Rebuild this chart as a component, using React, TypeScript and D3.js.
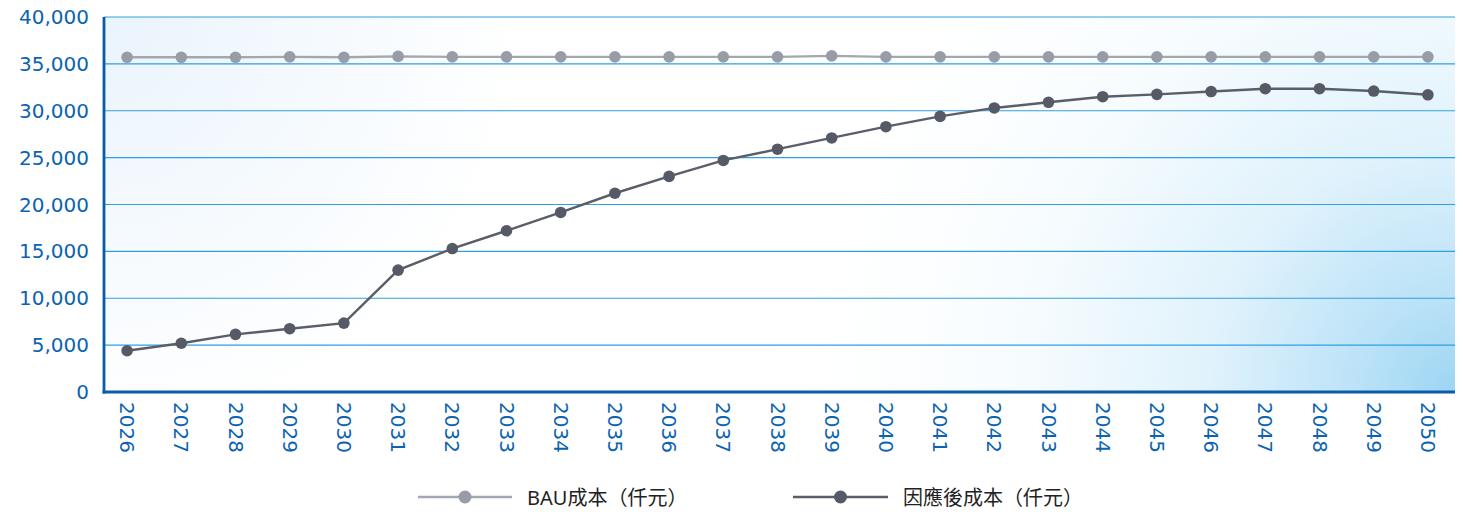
import React from "react";
import * as d3 from "d3";

// Years on the x axis
const years: string[] = [
  "2026", "2027", "2028", "2029", "2030", "2031", "2032", "2033", "2034",
  "2035", "2036", "2037", "2038", "2039", "2040", "2041", "2042", "2043",
  "2044", "2045", "2046", "2047", "2048", "2049", "2050",
];

// BAU cost (thousand NTD)
const bauCost: number[] = [
  35700, 35700, 35700, 35750, 35700, 35800, 35750, 35750, 35750,
  35750, 35750, 35750, 35750, 35850, 35750, 35750, 35750, 35750,
  35750, 35750, 35750, 35750, 35750, 35750, 35750,
];

// Cost after adaptation measures (thousand NTD)
const adaptedCost: number[] = [
  4400, 5200, 6150, 6750, 7350, 13000, 15300, 17200, 19150,
  21200, 23000, 24700, 25900, 27100, 28300, 29400, 30300, 30900,
  31500, 31750, 32050, 32350, 32350, 32100, 31700,
];

const yTicks: number[] = [0, 5000, 10000, 15000, 20000, 25000, 30000, 35000, 40000];

const legendLabels: string[] = ["BAU成本（仟元）", "因應後成本（仟元）"];

const W = 1463;
const H = 512;
const plot = { left: 100, right: 1455, top: 17, bottom: 392 };
const axisX = 104;

const BLUE_TEXT = "#0b63b1";
const GRID = "#2f9fe0";
const AXIS = "#0a5ca8";
const BAU_LINE = "#a3a7b0";
const BAU_DOT = "#979ca7";
const ADJ_LINE = "#5a5e69";
const ADJ_DOT = "#555a66";
const TICK_FONT = "'DejaVu Sans', 'Noto Sans', sans-serif";
const LEGEND_FONT = "'Noto Sans', 'Noto Sans CJK TC', sans-serif";

export default function App() {
  const x = d3
    .scaleBand<string>()
    .domain(years)
    .range([plot.left, plot.right])
    .padding(0);
  const cx = (yr: string) => (x(yr) ?? 0) + x.bandwidth() / 2;

  const y = d3.scaleLinear().domain([0, 40000]).range([plot.bottom, plot.top]);
  const fmt = d3.format(",");

  const line = d3
    .line<number>()
    .x((_, i) => cx(years[i]))
    .y((v) => y(v));

  const series = [
    { values: bauCost, line: BAU_LINE, dot: BAU_DOT },
    { values: adaptedCost, line: ADJ_LINE, dot: ADJ_DOT },
  ];

  const legend = [
    { x0: 418, x1: 512, label: legendLabels[0], line: BAU_LINE, dot: BAU_DOT },
    { x0: 793, x1: 888, label: legendLabels[1], line: ADJ_LINE, dot: ADJ_DOT },
  ];

  const bgProps = {
    x: axisX,
    y: plot.top,
    width: plot.right - axisX,
    height: plot.bottom - plot.top,
  };

  return (
    <svg
      width={W}
      height={H}
      style={{ position: "absolute", left: 0, top: 0, display: "block" }}
    >
      <defs>
        <radialGradient
          id="cornerGlow"
          gradientUnits="userSpaceOnUse"
          cx={plot.right}
          cy={plot.bottom}
          r={700}
        >
          <stop offset="0" stopColor="#9dd5f3" />
          <stop offset="0.15" stopColor="#bde3f8" />
          <stop offset="0.35" stopColor="#e0f2fc" />
          <stop offset="0.6" stopColor="#f5fbfe" />
          <stop offset="1" stopColor="#ffffff" stopOpacity="0" />
        </radialGradient>
        <radialGradient
          id="topLeftTint"
          gradientUnits="userSpaceOnUse"
          cx={axisX}
          cy={plot.top}
          r={420}
        >
          <stop offset="0" stopColor="#eaf4fc" />
          <stop offset="1" stopColor="#eaf4fc" stopOpacity="0" />
        </radialGradient>
      </defs>

      {/* plot background */}
      <rect {...bgProps} fill="#ffffff" />
      <rect {...bgProps} fill="url(#topLeftTint)" />
      <rect {...bgProps} fill="url(#cornerGlow)" />

      {/* horizontal gridlines */}
      {yTicks
        .filter((t) => t > 0)
        .map((t) => (
          <line
            key={t}
            x1={axisX}
            x2={plot.right}
            y1={y(t)}
            y2={y(t)}
            stroke={GRID}
            strokeWidth={1.2}
          />
        ))}

      {/* axes */}
      <line x1={axisX} x2={axisX} y1={plot.top} y2={plot.bottom + 1.5} stroke={AXIS} strokeWidth={2.8} />
      <line x1={axisX - 1.4} x2={plot.right} y1={plot.bottom} y2={plot.bottom} stroke={AXIS} strokeWidth={2.8} />

      {/* y tick labels */}
      {yTicks.map((t) => (
        <text
          key={t}
          x={89}
          y={y(t)}
          textAnchor="end"
          dominantBaseline="central"
          fontFamily={TICK_FONT}
          fontSize={20}
          fill={BLUE_TEXT}
        >
          {fmt(t)}
        </text>
      ))}

      {/* x tick labels, rotated */}
      {years.map((yr) => (
        <text
          key={yr}
          transform={`translate(${cx(yr)},${plot.bottom + 10}) rotate(90)`}
          textAnchor="start"
          dominantBaseline="central"
          fontFamily={TICK_FONT}
          fontSize={20}
          fill={BLUE_TEXT}
        >
          {yr}
        </text>
      ))}

      {/* series */}
      {series.map((s, si) => (
        <g key={si}>
          <path d={line(s.values) ?? ""} fill="none" stroke={s.line} strokeWidth={2.4} />
          {s.values.map((v, i) => (
            <circle key={i} cx={cx(years[i])} cy={y(v)} r={5.8} fill={s.dot} />
          ))}
        </g>
      ))}

      {/* legend */}
      {legend.map((l, i) => (
        <g key={i}>
          <line x1={l.x0} x2={l.x1} y1={497} y2={497} stroke={l.line} strokeWidth={2.4} />
          <circle cx={(l.x0 + l.x1) / 2} cy={497} r={6.5} fill={l.dot} />
          <text
            x={l.x1 + 15}
            y={497}
            dominantBaseline="central"
            fontFamily={LEGEND_FONT}
            fontSize={20}
            fill="#222222"
          >
            {l.label}
          </text>
        </g>
      ))}
    </svg>
  );
}
